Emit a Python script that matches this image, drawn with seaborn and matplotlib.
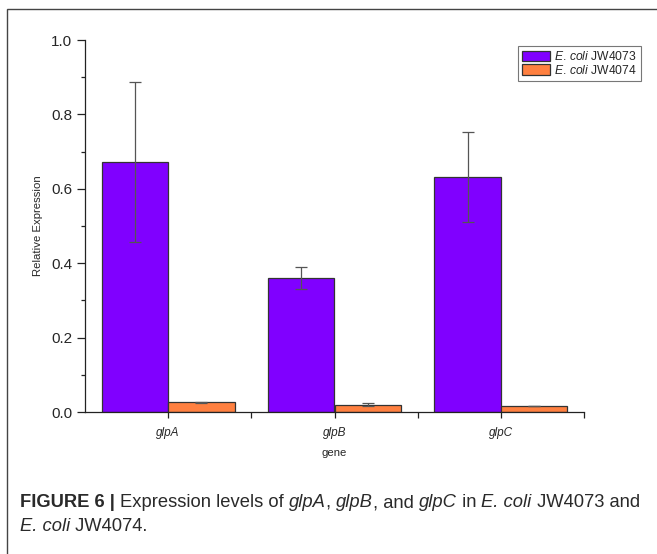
import matplotlib
matplotlib.use("Agg")
import matplotlib.pyplot as plt
from matplotlib.patches import Rectangle, Patch
from matplotlib.ticker import MultipleLocator, FixedLocator
import seaborn as sns
import pandas as pd
import numpy as np

# ---- data ----
genes = ["glpA", "glpB", "glpC"]
strains = ["E. coli JW4073", "E. coli JW4074"]
expr_4073 = [0.672, 0.360, 0.632]
err_4073 = [0.215, 0.030, 0.120]
expr_4074 = [0.026, 0.020, 0.016]
err_4074 = [0.001, 0.003, 0.0]
colors = ["#8000FF", "#FF8040"]

df = pd.DataFrame({
    "gene": genes * 2,
    "strain": [strains[0]] * 3 + [strains[1]] * 3,
    "value": expr_4073 + expr_4074,
})

sns.set_style("white")
plt.rcParams["font.family"] = ["Liberation Sans", "DejaVu Sans"]
plt.rcParams["mathtext.fontset"] = "custom"
plt.rcParams["mathtext.rm"] = "Liberation Sans"
plt.rcParams["mathtext.it"] = "Liberation Sans:italic"
plt.rcParams["mathtext.bf"] = "Liberation Sans:bold"

fig = plt.figure(figsize=(6.57, 5.54), dpi=100)
ax = fig.add_axes([85 / 657, 1 - 412 / 554, (584 - 85) / 657, (412 - 40) / 554])

sns.barplot(data=df, x="gene", y="value", hue="strain", order=genes,
            hue_order=strains, palette=colors, errorbar=None, width=0.8,
            edgecolor="#333333", linewidth=0.9, saturation=1, ax=ax, legend=False)

# error bars at bar centres
errs = {strains[0]: err_4073, strains[1]: err_4074}
vals = {strains[0]: expr_4073, strains[1]: expr_4074}
bar_conts = list(ax.containers)[:2]
for ci, cont in enumerate(bar_conts):
    s = strains[ci]
    xs = [p.get_x() + p.get_width() / 2 for p in cont.patches]
    ax.errorbar(xs, vals[s], yerr=errs[s], fmt="none", ecolor="#555555",
                elinewidth=0.9, capsize=4, capthick=0.9, zorder=5)

ax.set_xlim(-0.5, 2.5)
ax.set_ylim(0, 1.0)
ax.yaxis.set_minor_locator(MultipleLocator(0.1))
ax.xaxis.set_minor_locator(FixedLocator([0.5, 1.5, 2.5]))
ax.set_yticks([0, 0.2, 0.4, 0.6, 0.8, 1.0])
ax.set_yticklabels(["0.0", "0.2", "0.4", "0.6", "0.8", "1.0"], fontsize=11)
ax.set_xticks([0, 1, 2])
ax.set_xticklabels(genes, fontsize=8.5, style="italic")
ax.tick_params(axis="y", which="major", direction="out", length=6, width=0.9,
               color="#222222", left=True, pad=3)
ax.tick_params(axis="y", which="minor", direction="out", length=3, width=0.9,
               color="#222222", left=True)
ax.tick_params(axis="x", which="both", direction="out", length=4, width=0.9,
               color="#222222", bottom=True, pad=7)
for sp in ["top", "right"]:
    ax.spines[sp].set_visible(False)
for sp in ["left", "bottom"]:
    ax.spines[sp].set_color("#222222")
    ax.spines[sp].set_linewidth(0.9)
ax.set_ylabel("Relative Expression", fontsize=8.2, labelpad=6)
ax.set_xlabel("gene", fontsize=8.2, labelpad=6)

# legend
handles = [Patch(facecolor=colors[0], edgecolor="#333333", linewidth=0.9),
           Patch(facecolor=colors[1], edgecolor="#333333", linewidth=0.9)]
labels = [r"$\it{E.\,coli}$ JW4073", r"$\it{E.\,coli}$ JW4074"]
leg = ax.legend(handles, labels, loc="upper right",
                bbox_to_anchor=(641 / 657, 1 - 46 / 554), bbox_transform=fig.transFigure,
                fontsize=8.7, frameon=True, fancybox=False, borderpad=0.35,
                handlelength=2.3, handleheight=0.95, handletextpad=0.35,
                labelspacing=0.05, borderaxespad=0)
leg.get_frame().set_edgecolor("#555555")
leg.get_frame().set_linewidth(0.8)

# outer frame
fig.add_artist(Rectangle((7 / 657, -0.05), 1.1, 1 - 9 / 554 + 0.05,
                         transform=fig.transFigure, fill=False,
                         edgecolor="#444444", linewidth=1.0))

# caption, drawn as consecutive segments
renderer = fig.canvas.get_renderer()
cap_size = 13.2
def draw_line(segments, x0, ybase):
    x = x0
    for txt, style, weight in segments:
        t = fig.text(x, ybase, txt, fontsize=cap_size, color="#2a2a2a",
                     style=style, weight=weight, va="baseline", ha="left",
                     transform=None)
        bb = t.get_window_extent(renderer)
        x = bb.x1

H = 554
line1 = [("FIGURE 6 | ", "normal", "bold"),
         ("Expression levels of ", "normal", "normal"),
         ("glpA", "italic", "normal"), (", ", "normal", "normal"),
         ("glpB", "italic", "normal"), (", and ", "normal", "normal"),
         ("glpC", "italic", "normal"), (" in ", "normal", "normal"),
         ("E. coli", "italic", "normal"), (" JW4073 and", "normal", "normal")]
line2 = [("E. coli", "italic", "normal"), (" JW4074.", "normal", "normal")]
draw_line(line1, 20, H - 507)
draw_line(line2, 20, H - 531)

fig.savefig("out.png", dpi=100)
